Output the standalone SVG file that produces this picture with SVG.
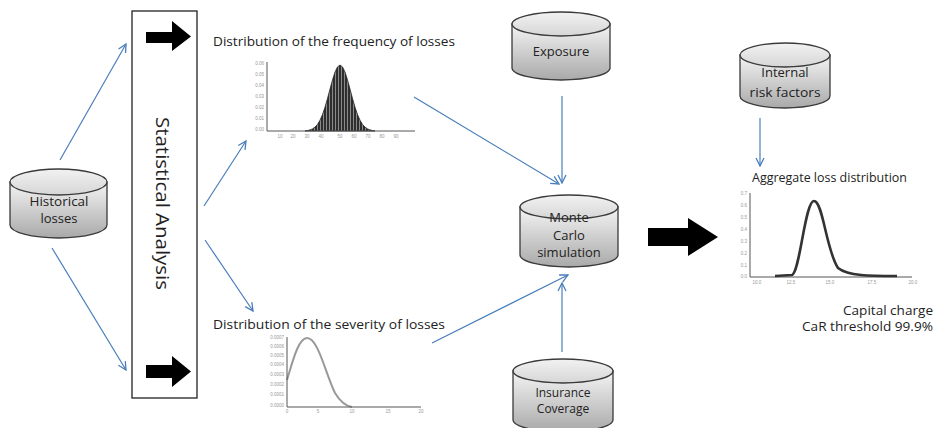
<svg xmlns="http://www.w3.org/2000/svg" width="934" height="428" viewBox="0 0 934 428">
<defs>
<linearGradient id="cylBody" x1="0" y1="0" x2="0" y2="1">
<stop offset="0" stop-color="#f4f4f4"/>
<stop offset="1" stop-color="#a9a9a9"/>
</linearGradient>
<linearGradient id="cylTop" x1="0" y1="0" x2="0" y2="1">
<stop offset="0" stop-color="#f2f2f2"/>
<stop offset="1" stop-color="#d6d6d6"/>
</linearGradient>
<pattern id="bars" width="3" height="10" patternUnits="userSpaceOnUse">
<rect width="3" height="10" fill="#2e2e2e"/>
<rect x="2" width="1" height="10" fill="#8a8a8a"/>
</pattern>
<marker id="open" viewBox="0 0 10 10" refX="9" refY="5" markerWidth="10" markerHeight="10" markerUnits="userSpaceOnUse" orient="auto">
<path d="M1,1 L9,5 L1,9" fill="none" stroke="#4a7ebb" stroke-width="1.3"/>
</marker>
</defs>
<style>
.cyl{fill:url(#cylBody);stroke:#3a3a3a;stroke-width:1.3}
.cyltop{fill:url(#cylTop);stroke:#3a3a3a;stroke-width:1.3}
.lbl{font-family:"Open Sans","Liberation Sans",sans-serif;font-size:13px;fill:#222;text-anchor:middle}
.title{font-family:"Open Sans","Liberation Sans",sans-serif;font-size:12px;fill:#222}
.tick{font-family:"Liberation Sans",sans-serif;font-size:4.5px;fill:#999}
.axis{stroke:#555;stroke-width:1;fill:none}
.conn{stroke:#4a7ebb;stroke-width:1.2;fill:none;marker-end:url(#open)}
.big{fill:#000}
</style>
<rect width="934" height="428" fill="#fff"/>

<g id="connectors">
<line class="conn" x1="60" y1="160" x2="126" y2="44"/>
<line class="conn" x1="52" y1="248" x2="126" y2="370"/>
<line class="conn" x1="204" y1="206" x2="246" y2="141"/>
<line class="conn" x1="205" y1="240" x2="253" y2="311"/>
<line class="conn" x1="414" y1="97" x2="559" y2="184"/>
<line class="conn" x1="432" y1="343" x2="568" y2="275"/>
<line class="conn" x1="562" y1="96" x2="562" y2="183"/>
<line class="conn" x1="562" y1="352" x2="562" y2="283"/>
<line class="conn" x1="760" y1="118" x2="760" y2="166"/>
</g>

<g id="historical-losses">
<path class="cyl" d="M10,182 L10,225 A48.5,13 0 0 0 107,225 L107,182 Z"/>
<ellipse class="cyltop" cx="58.5" cy="182" rx="48.5" ry="13"/>
<text class="lbl" x="59" y="206" textLength="59" lengthAdjust="spacingAndGlyphs">Historical</text>
<text class="lbl" x="59" y="223">losses</text>
</g>

<g id="statistical-analysis">
<rect x="132" y="11" width="65" height="387" fill="#fff" stroke="#222" stroke-width="1.3"/>
<text x="0" y="0" transform="translate(156,203.5) rotate(90)" font-family="Open Sans, Liberation Sans, sans-serif" font-size="19" fill="#222" text-anchor="middle" textLength="173" lengthAdjust="spacingAndGlyphs">Statistical Analysis</text>
<path class="big" d="M146,32 L172,32 L172,21 L191,36.5 L172,51 L172,43 L146,43 Z"/>
<path class="big" d="M146,365 L172,365 L172,356 L191,371.5 L172,387 L172,378 L146,378 Z"/>
</g>

<g id="frequency-distribution">
<text class="title" x="213" y="46" textLength="242" lengthAdjust="spacingAndGlyphs">Distribution of the frequency of losses</text>
<path d="M305,131 L307.5,130.5 L310,129.9 L312.5,128.9 L315,127.1 L317.5,124.4 L320,120.2 L322.5,114.5 L325,107.2 L327.5,98.5 L330,89.1 L332.5,79.9 L335,72.1 L337.5,66.9 L340,65 L342.5,66.9 L345,72.1 L347.5,79.9 L350,89.1 L352.5,98.5 L355,107.2 L357.5,114.5 L360,120.2 L362.5,124.4 L365,127.1 L367.5,128.9 L370,129.9 L372.5,130.5 L375,131 Z" fill="url(#bars)" stroke="#222" stroke-width="0.8"/>
<path class="axis" d="M267,62 L267,131 L415,131"/>
<text class="tick" x="264" y="65" text-anchor="end">0.06</text>
<text class="tick" x="264" y="76" text-anchor="end">0.05</text>
<text class="tick" x="264" y="87" text-anchor="end">0.04</text>
<text class="tick" x="264" y="98" text-anchor="end">0.03</text>
<text class="tick" x="264" y="109" text-anchor="end">0.02</text>
<text class="tick" x="264" y="120" text-anchor="end">0.01</text>
<text class="tick" x="264" y="131" text-anchor="end">0.00</text>
<text class="tick" x="280" y="138" text-anchor="middle">10</text>
<text class="tick" x="293" y="138" text-anchor="middle">20</text>
<text class="tick" x="307" y="138" text-anchor="middle">30</text>
<text class="tick" x="321" y="138" text-anchor="middle">40</text>
<text class="tick" x="340" y="138" text-anchor="middle">50</text>
<text class="tick" x="354" y="138" text-anchor="middle">60</text>
<text class="tick" x="368" y="138" text-anchor="middle">70</text>
<text class="tick" x="382" y="138" text-anchor="middle">80</text>
<text class="tick" x="396" y="138" text-anchor="middle">90</text>
</g>

<g id="severity-distribution">
<text class="title" x="213" y="329" textLength="232" lengthAdjust="spacingAndGlyphs">Distribution of the severity of losses</text>
<path d="M287,380 C292,364 298,338 307,338 C318,338 325,372 335,393 C341,403 346,406 352,407" fill="none" stroke="#999" stroke-width="2"/>
<path class="axis" d="M287,337 L287,407 L421,407" stroke="#888"/>
<text class="tick" x="284" y="339" text-anchor="end">0.0007</text>
<text class="tick" x="284" y="348" text-anchor="end">0.0006</text>
<text class="tick" x="284" y="357" text-anchor="end">0.0005</text>
<text class="tick" x="284" y="366" text-anchor="end">0.0004</text>
<text class="tick" x="284" y="376" text-anchor="end">0.0003</text>
<text class="tick" x="284" y="386" text-anchor="end">0.0002</text>
<text class="tick" x="284" y="396" text-anchor="end">0.0001</text>
<text class="tick" x="284" y="407" text-anchor="end">0.0000</text>
<text class="tick" x="287" y="413" text-anchor="middle">0</text>
<text class="tick" x="318" y="413" text-anchor="middle">5</text>
<text class="tick" x="352" y="413" text-anchor="middle">10</text>
<text class="tick" x="388" y="413" text-anchor="middle">15</text>
<text class="tick" x="421" y="413" text-anchor="middle">20</text>
</g>

<g id="exposure">
<path class="cyl" d="M512,24 L512,68 A49,12 0 0 0 610,68 L610,24 Z"/>
<ellipse class="cyltop" cx="561" cy="24" rx="49" ry="12"/>
<text class="lbl" x="561" y="56">Exposure</text>
</g>

<g id="monte-carlo">
<path class="cyl" d="M520,207 L520,255 A49,12 0 0 0 618,255 L618,207 Z"/>
<ellipse class="cyltop" cx="569" cy="207" rx="49" ry="12"/>
<text class="lbl" x="569" y="222">Monte</text>
<text class="lbl" x="569" y="240">Carlo</text>
<text class="lbl" x="569" y="257">simulation</text>
</g>

<g id="insurance-coverage">
<path class="cyl" d="M513,371 L513,420 A50,12 0 0 0 613,420 L613,371 Z"/>
<ellipse class="cyltop" cx="563" cy="371" rx="50" ry="12"/>
<text class="lbl" x="563" y="397" style="font-size:12px">Insurance</text>
<text class="lbl" x="563" y="413" style="font-size:12px">Coverage</text>
</g>

<g id="big-arrow">
<path class="big" d="M648,228 L688,228 L688,218 L718,237 L688,256 L688,246 L648,246 Z"/>
</g>

<g id="internal-risk-factors">
<path class="cyl" d="M740,55 L740,96 A45,12 0 0 0 830,96 L830,55 Z"/>
<ellipse class="cyltop" cx="785" cy="55" rx="45" ry="12"/>
<text class="lbl" x="785" y="77">Internal</text>
<text class="lbl" x="785" y="97" textLength="71" lengthAdjust="spacingAndGlyphs">risk factors</text>
</g>

<g id="aggregate-distribution">
<text class="title" x="752" y="182" textLength="155" lengthAdjust="spacingAndGlyphs">Aggregate loss distribution</text>
<path class="axis" d="M750,193 L750,277 L912,277" stroke="#999"/>
<path d="M775,276 L792,275 C800,272 805,201 814,201 C823,201 826,250 838,268 C848,276 870,276 897,276" fill="none" stroke="#333" stroke-width="2.6"/>
<text class="tick" x="747" y="195" text-anchor="end">0.7</text>
<text class="tick" x="747" y="207" text-anchor="end">0.6</text>
<text class="tick" x="747" y="219" text-anchor="end">0.5</text>
<text class="tick" x="747" y="231" text-anchor="end">0.4</text>
<text class="tick" x="747" y="243" text-anchor="end">0.3</text>
<text class="tick" x="747" y="255" text-anchor="end">0.2</text>
<text class="tick" x="747" y="267" text-anchor="end">0.1</text>
<text class="tick" x="747" y="278" text-anchor="end">0.0</text>
<text class="tick" x="757" y="284" text-anchor="middle">10.0</text>
<text class="tick" x="791" y="284" text-anchor="middle">12.5</text>
<text class="tick" x="830" y="284" text-anchor="middle">15.0</text>
<text class="tick" x="872" y="284" text-anchor="middle">17.5</text>
<text class="tick" x="913" y="284" text-anchor="middle">20.0</text>
<text class="title" x="933" y="315" text-anchor="end" textLength="90" lengthAdjust="spacingAndGlyphs">Capital charge</text>
<text class="title" x="933" y="331" text-anchor="end" textLength="131" lengthAdjust="spacingAndGlyphs">CaR threshold 99.9%</text>
</g>
</svg>
